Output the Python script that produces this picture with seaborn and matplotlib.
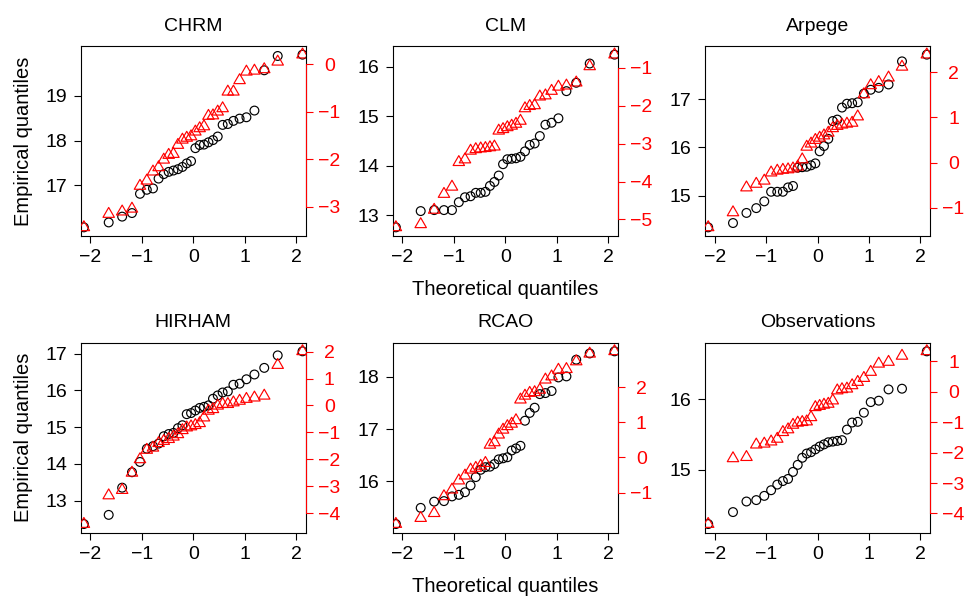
import matplotlib
matplotlib.use("Agg")
import matplotlib.pyplot as plt
from matplotlib.path import Path
import seaborn as sns

# theoretical normal quantiles for n = 30
theo_q = [-2.128, -1.645, -1.383, -1.192, -1.036, -0.903, -0.783, -0.674, -0.573, -0.477,
          -0.385, -0.297, -0.210, -0.126, -0.042, 0.042, 0.126, 0.210, 0.297, 0.385,
          0.477, 0.573, 0.674, 0.783, 0.903, 1.036, 1.192, 1.383, 1.645, 2.128]

panel_names = ["CHRM", "CLM", "Arpege", "HIRHAM", "RCAO", "Observations"]

# black circles (left axis)
chrm_black = [16.06, 16.17, 16.30, 16.38, 16.81, 16.90, 16.93, 17.15, 17.25, 17.30,
              17.33, 17.36, 17.41, 17.49, 17.54, 17.83, 17.90, 17.91, 17.96, 18.01,
              18.09, 18.35, 18.37, 18.44, 18.49, 18.52, 18.67, 19.57, 19.89, 19.92]
clm_black = [12.75, 13.08, 13.10, 13.10, 13.10, 13.26, 13.36, 13.38, 13.45, 13.45,
             13.47, 13.59, 13.67, 13.80, 14.03, 14.13, 14.14, 14.15, 14.18, 14.29,
             14.42, 14.45, 14.60, 14.83, 14.87, 14.96, 15.51, 15.68, 16.07, 16.25]
arpege_black = [14.34, 14.43, 14.64, 14.74, 14.88, 15.08, 15.08, 15.08, 15.17, 15.20,
                15.58, 15.59, 15.60, 15.63, 15.67, 15.92, 16.03, 16.18, 16.55, 16.58,
                16.83, 16.91, 16.92, 16.94, 17.12, 17.20, 17.24, 17.31, 17.79, 17.93]
hirham_black = [12.36, 12.61, 13.35, 13.77, 14.05, 14.41, 14.48, 14.55, 14.75, 14.81,
                14.84, 14.97, 15.05, 15.35, 15.38, 15.45, 15.52, 15.55, 15.59, 15.77,
                15.86, 15.94, 15.97, 16.15, 16.18, 16.30, 16.43, 16.61, 16.95, 17.06]
rcao_black = [15.18, 15.49, 15.61, 15.62, 15.71, 15.74, 15.79, 15.92, 16.08, 16.22,
              16.27, 16.28, 16.33, 16.42, 16.44, 16.46, 16.59, 16.63, 16.68, 17.16,
              17.31, 17.41, 17.67, 17.69, 17.73, 17.99, 18.01, 18.33, 18.45, 18.49]
obs_black = [14.23, 14.40, 14.55, 14.57, 14.63, 14.71, 14.79, 14.84, 14.87, 14.97,
             15.07, 15.17, 15.23, 15.25, 15.29, 15.33, 15.36, 15.39, 15.40, 15.41,
             15.42, 15.57, 15.67, 15.68, 15.81, 15.96, 15.98, 16.14, 16.15, 16.68]

# red triangles (right axis)
chrm_red = [-3.43, -3.15, -3.10, -3.04, -2.56, -2.45, -2.26, -2.17, -2.01, -1.91,
            -1.89, -1.70, -1.59, -1.55, -1.52, -1.42, -1.35, -1.31, -1.09, -1.08,
            -1.00, -0.93, -0.58, -0.58, -0.34, -0.16, -0.14, -0.11, 0.05, 0.20]
clm_red = [-5.21, -5.13, -4.75, -4.33, -4.14, -3.49, -3.42, -3.19, -3.15, -3.13,
           -3.12, -3.10, -3.08, -2.66, -2.62, -2.57, -2.53, -2.48, -2.40, -2.07,
           -2.01, -1.99, -1.76, -1.73, -1.61, -1.50, -1.47, -1.39, -0.96, -0.65]
arpege_red = [-1.43, -1.10, -0.55, -0.47, -0.40, -0.22, -0.18, -0.16, -0.15, -0.13,
              -0.09, 0.07, 0.35, 0.42, 0.50, 0.55, 0.60, 0.66, 0.76, 0.81,
              0.84, 0.86, 0.88, 1.02, 1.51, 1.71, 1.78, 1.88, 2.12, 2.39]
hirham_red = [-4.40, -3.34, -3.14, -2.50, -2.00, -1.65, -1.57, -1.40, -1.32, -1.25,
              -1.16, -1.07, -0.92, -0.82, -0.78, -0.73, -0.66, -0.45, -0.20, -0.14,
              -0.01, 0.05, 0.05, 0.11, 0.17, 0.24, 0.29, 0.36, 1.50, 2.01]
rcao_red = [-1.90, -1.73, -1.59, -1.11, -0.92, -0.66, -0.52, -0.35, -0.30, -0.24,
            -0.16, 0.36, 0.43, 0.65, 0.79, 0.89, 0.96, 1.06, 1.65, 1.76,
            1.84, 1.86, 1.93, 2.22, 2.31, 2.50, 2.52, 2.74, 2.96, 3.03]
obs_red = [-4.35, -2.19, -2.15, -1.74, -1.71, -1.64, -1.55, -1.33, -1.24, -1.09,
           -1.02, -1.00, -0.98, -0.84, -0.51, -0.47, -0.43, -0.40, -0.29, 0.04,
           0.08, 0.10, 0.21, 0.32, 0.45, 0.65, 0.92, 0.98, 1.18, 1.33]

black_series = [chrm_black, clm_black, arpege_black, hirham_black, rcao_black, obs_black]
red_series = [chrm_red, clm_red, arpege_red, hirham_red, rcao_red, obs_red]

x_ticks = [-2, -1, 0, 1, 2]
left_ticks = [[17, 18, 19], [13, 14, 15, 16], [15, 16, 17],
              [13, 14, 15, 16, 17], [16, 17, 18], [15, 16]]
right_ticks = [[-3, -2, -1, 0], [-5, -4, -3, -2, -1], [-1, 0, 1, 2],
               [-4, -3, -2, -1, 0, 1, 2], [-1, 0, 1, 2], [-4, -3, -2, -1, 0, 1]]

sns.set_style("ticks", rc={"axes.edgecolor": "black", "xtick.color": "black",
                           "ytick.color": "black", "text.color": "black",
                           "axes.labelcolor": "black"})
plt.rcParams["font.family"] = ["Liberation Sans", "DejaVu Sans"]
plt.rcParams["font.size"] = 14
plt.rcParams["axes.unicode_minus"] = True

# R-like open triangle (pch = 2)
tri = Path([(0, 1.555), (1.347, -0.778), (-1.347, -0.778), (0, 1.555)], closed=True)

fig = plt.figure(figsize=(9.73, 5.98), dpi=100)
W, H = 973.0, 598.0
col_left = [80.7, 392.7, 705.0]
row_top = [46.0, 342.7]
ax_w, ax_h = 225.0, 190.0

for i, name in enumerate(panel_names):
    r, c = divmod(i, 3)
    ax = fig.add_axes([col_left[c] / W, 1 - (row_top[r] + ax_h) / H, ax_w / W, ax_h / H])

    sns.scatterplot(x=theo_q, y=black_series[i], ax=ax, marker="o", s=40,
                    facecolor="none", edgecolor="black", linewidth=0.85)
    ax2 = ax.twinx()
    sns.scatterplot(x=theo_q, y=red_series[i], ax=ax2, marker=tri, s=90,
                    facecolor="none", edgecolor="red", linewidth=0.85)

    ax.set_xlim(-2.19, 2.19)
    ax.set_xticks(x_ticks)
    ax.set_yticks(left_ticks[i])
    ax2.set_yticks(right_ticks[i])

    ax.tick_params(axis="both", labelsize=14)
    ax.tick_params(axis="x", direction="out", length=4.8, width=0.8, pad=4.5)
    ax.tick_params(axis="y", direction="out", length=4.8, width=0.8, pad=5)
    ax2.tick_params(axis="y", direction="out", length=4.8, width=0.8, pad=12.2,
                    colors="red", labelsize=14)
    for lab in ax2.yaxis.get_ticklabels():
        lab.set_horizontalalignment("center")

    for sp in ax.spines.values():
        sp.set_visible(True)
        sp.set_color("black")
        sp.set_linewidth(0.8)
    for side in ["left", "top", "bottom"]:
        ax2.spines[side].set_visible(False)
    ax2.spines["right"].set_color("red")
    ax2.spines["right"].set_linewidth(0.8)
    ax2.spines["right"].set_bounds(min(right_ticks[i]), max(right_ticks[i]))

    ax.set_title(name, pad=11, fontsize=14)
    ax.set_ylabel("")
    ax2.set_ylabel("")
    ax.set_xlabel("")
    if c == 0:
        ax.set_ylabel("Empirical quantiles", fontsize=14.5)
        ax.yaxis.set_label_coords(-0.213, 0.5)
    if c == 1:
        ax.set_xlabel("Theoretical quantiles", fontsize=14.5)
        ax.xaxis.set_label_coords(0.5, -0.232)

fig.savefig("out.png", dpi=100)
